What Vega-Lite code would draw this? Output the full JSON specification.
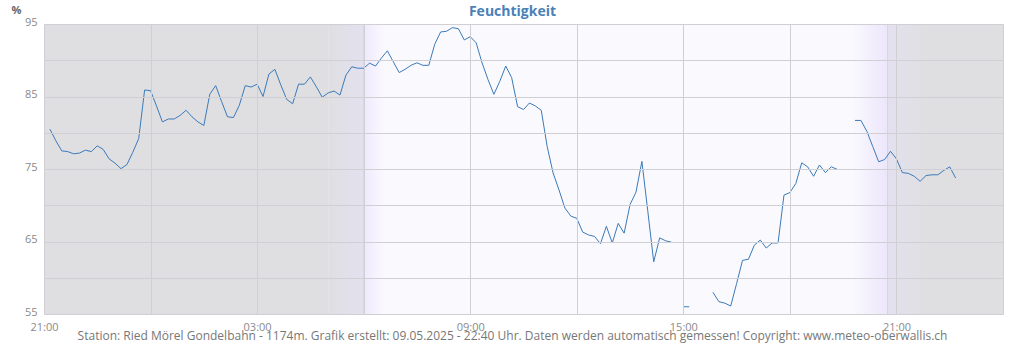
{
  "width": 959,
  "height": 290,
  "autosize": {"type": "none"},
  "padding": {"left": 44, "top": 24, "right": 21, "bottom": 36},
  "background": "white",
  "view": {"stroke": null},
  "resolve": {"axis": {"x": "independent"}},
  "datasets": {
    "bands": [
      {"kind": "night", "start": "2025-05-08T21:00", "end": "2025-05-09T05:00"},
      {"kind": "dawn1", "start": "2025-05-09T05:00", "end": "2025-05-09T06:00"},
      {"kind": "dawn2", "start": "2025-05-09T06:00", "end": "2025-05-09T06:35"},
      {"kind": "day", "start": "2025-05-09T06:35", "end": "2025-05-09T19:45"},
      {"kind": "dusk1", "start": "2025-05-09T19:45", "end": "2025-05-09T20:45"},
      {"kind": "dusk2", "start": "2025-05-09T20:45", "end": "2025-05-09T21:50"},
      {"kind": "night", "start": "2025-05-09T21:50", "end": "2025-05-10T00:00"}
    ],
    "sun": [
      {"event": "sunrise", "time": "2025-05-09T06:00"},
      {"event": "sunset", "time": "2025-05-09T20:45"}
    ],
    "humidity": [
      {"part": 1, "time": "2025-05-08T21:10", "rh": 80.5},
      {"part": 1, "time": "2025-05-08T21:20", "rh": 78.9},
      {"part": 1, "time": "2025-05-08T21:30", "rh": 77.5},
      {"part": 1, "time": "2025-05-08T21:40", "rh": 77.4},
      {"part": 1, "time": "2025-05-08T21:50", "rh": 77.1},
      {"part": 1, "time": "2025-05-08T22:00", "rh": 77.2},
      {"part": 1, "time": "2025-05-08T22:10", "rh": 77.6},
      {"part": 1, "time": "2025-05-08T22:20", "rh": 77.4},
      {"part": 1, "time": "2025-05-08T22:30", "rh": 78.2},
      {"part": 1, "time": "2025-05-08T22:40", "rh": 77.7},
      {"part": 1, "time": "2025-05-08T22:50", "rh": 76.4},
      {"part": 1, "time": "2025-05-08T23:00", "rh": 75.8},
      {"part": 1, "time": "2025-05-08T23:10", "rh": 75.05},
      {"part": 1, "time": "2025-05-08T23:20", "rh": 75.6},
      {"part": 1, "time": "2025-05-08T23:30", "rh": 77.3},
      {"part": 1, "time": "2025-05-08T23:40", "rh": 79.2},
      {"part": 1, "time": "2025-05-08T23:50", "rh": 85.9},
      {"part": 1, "time": "2025-05-09T00:00", "rh": 85.8},
      {"part": 1, "time": "2025-05-09T00:10", "rh": 83.7},
      {"part": 1, "time": "2025-05-09T00:20", "rh": 81.5},
      {"part": 1, "time": "2025-05-09T00:30", "rh": 81.9},
      {"part": 1, "time": "2025-05-09T00:40", "rh": 81.9},
      {"part": 1, "time": "2025-05-09T00:50", "rh": 82.4},
      {"part": 1, "time": "2025-05-09T01:00", "rh": 83.1},
      {"part": 1, "time": "2025-05-09T01:10", "rh": 82.2},
      {"part": 1, "time": "2025-05-09T01:20", "rh": 81.5},
      {"part": 1, "time": "2025-05-09T01:30", "rh": 81.0},
      {"part": 1, "time": "2025-05-09T01:40", "rh": 85.3},
      {"part": 1, "time": "2025-05-09T01:50", "rh": 86.5},
      {"part": 1, "time": "2025-05-09T02:00", "rh": 84.3},
      {"part": 1, "time": "2025-05-09T02:10", "rh": 82.2},
      {"part": 1, "time": "2025-05-09T02:20", "rh": 82.1},
      {"part": 1, "time": "2025-05-09T02:30", "rh": 83.8},
      {"part": 1, "time": "2025-05-09T02:40", "rh": 86.5},
      {"part": 1, "time": "2025-05-09T02:50", "rh": 86.3},
      {"part": 1, "time": "2025-05-09T03:00", "rh": 86.7},
      {"part": 1, "time": "2025-05-09T03:10", "rh": 85.0},
      {"part": 1, "time": "2025-05-09T03:20", "rh": 88.1},
      {"part": 1, "time": "2025-05-09T03:30", "rh": 88.75},
      {"part": 1, "time": "2025-05-09T03:40", "rh": 86.6},
      {"part": 1, "time": "2025-05-09T03:50", "rh": 84.6},
      {"part": 1, "time": "2025-05-09T04:00", "rh": 84.0},
      {"part": 1, "time": "2025-05-09T04:10", "rh": 86.7},
      {"part": 1, "time": "2025-05-09T04:20", "rh": 86.7},
      {"part": 1, "time": "2025-05-09T04:30", "rh": 87.7},
      {"part": 1, "time": "2025-05-09T04:40", "rh": 86.35},
      {"part": 1, "time": "2025-05-09T04:50", "rh": 84.9},
      {"part": 1, "time": "2025-05-09T05:00", "rh": 85.5},
      {"part": 1, "time": "2025-05-09T05:10", "rh": 85.75},
      {"part": 1, "time": "2025-05-09T05:20", "rh": 85.2},
      {"part": 1, "time": "2025-05-09T05:30", "rh": 87.95},
      {"part": 1, "time": "2025-05-09T05:40", "rh": 89.1},
      {"part": 1, "time": "2025-05-09T05:50", "rh": 88.9},
      {"part": 1, "time": "2025-05-09T06:00", "rh": 88.9},
      {"part": 1, "time": "2025-05-09T06:10", "rh": 89.6},
      {"part": 1, "time": "2025-05-09T06:20", "rh": 89.2},
      {"part": 1, "time": "2025-05-09T06:30", "rh": 90.3},
      {"part": 1, "time": "2025-05-09T06:40", "rh": 91.3},
      {"part": 1, "time": "2025-05-09T06:50", "rh": 89.8},
      {"part": 1, "time": "2025-05-09T07:00", "rh": 88.3},
      {"part": 1, "time": "2025-05-09T07:10", "rh": 88.75},
      {"part": 1, "time": "2025-05-09T07:20", "rh": 89.3},
      {"part": 1, "time": "2025-05-09T07:30", "rh": 89.65},
      {"part": 1, "time": "2025-05-09T07:40", "rh": 89.3},
      {"part": 1, "time": "2025-05-09T07:50", "rh": 89.3},
      {"part": 1, "time": "2025-05-09T08:00", "rh": 92.2},
      {"part": 1, "time": "2025-05-09T08:10", "rh": 93.9},
      {"part": 1, "time": "2025-05-09T08:20", "rh": 94.0},
      {"part": 1, "time": "2025-05-09T08:30", "rh": 94.5},
      {"part": 1, "time": "2025-05-09T08:40", "rh": 94.35},
      {"part": 1, "time": "2025-05-09T08:50", "rh": 92.8},
      {"part": 1, "time": "2025-05-09T09:00", "rh": 93.25},
      {"part": 1, "time": "2025-05-09T09:10", "rh": 92.4},
      {"part": 1, "time": "2025-05-09T09:20", "rh": 89.65},
      {"part": 1, "time": "2025-05-09T09:30", "rh": 87.35},
      {"part": 1, "time": "2025-05-09T09:40", "rh": 85.3},
      {"part": 1, "time": "2025-05-09T09:50", "rh": 87.1},
      {"part": 1, "time": "2025-05-09T10:00", "rh": 89.2},
      {"part": 1, "time": "2025-05-09T10:10", "rh": 87.6},
      {"part": 1, "time": "2025-05-09T10:20", "rh": 83.6},
      {"part": 1, "time": "2025-05-09T10:30", "rh": 83.2},
      {"part": 1, "time": "2025-05-09T10:40", "rh": 84.1},
      {"part": 1, "time": "2025-05-09T10:50", "rh": 83.7},
      {"part": 1, "time": "2025-05-09T11:00", "rh": 83.1},
      {"part": 1, "time": "2025-05-09T11:10", "rh": 78.1},
      {"part": 1, "time": "2025-05-09T11:20", "rh": 74.45},
      {"part": 1, "time": "2025-05-09T11:30", "rh": 72.1},
      {"part": 1, "time": "2025-05-09T11:40", "rh": 69.6},
      {"part": 1, "time": "2025-05-09T11:50", "rh": 68.5},
      {"part": 1, "time": "2025-05-09T12:00", "rh": 68.2},
      {"part": 1, "time": "2025-05-09T12:10", "rh": 66.3},
      {"part": 1, "time": "2025-05-09T12:20", "rh": 65.9},
      {"part": 1, "time": "2025-05-09T12:30", "rh": 65.7},
      {"part": 1, "time": "2025-05-09T12:40", "rh": 64.7},
      {"part": 1, "time": "2025-05-09T12:50", "rh": 67.1},
      {"part": 1, "time": "2025-05-09T13:00", "rh": 64.8},
      {"part": 1, "time": "2025-05-09T13:10", "rh": 67.5},
      {"part": 1, "time": "2025-05-09T13:20", "rh": 66.15},
      {"part": 1, "time": "2025-05-09T13:30", "rh": 70.1},
      {"part": 1, "time": "2025-05-09T13:40", "rh": 71.8},
      {"part": 1, "time": "2025-05-09T13:50", "rh": 76.05},
      {"part": 1, "time": "2025-05-09T14:00", "rh": 69.15},
      {"part": 1, "time": "2025-05-09T14:10", "rh": 62.2},
      {"part": 1, "time": "2025-05-09T14:20", "rh": 65.5},
      {"part": 1, "time": "2025-05-09T14:30", "rh": 65.1},
      {"part": 1, "time": "2025-05-09T14:40", "rh": 64.9},
      {"part": 2, "time": "2025-05-09T15:00", "rh": 56.0},
      {"part": 2, "time": "2025-05-09T15:10", "rh": 56.0},
      {"part": 3, "time": "2025-05-09T15:50", "rh": 58.0},
      {"part": 3, "time": "2025-05-09T16:00", "rh": 56.7},
      {"part": 3, "time": "2025-05-09T16:10", "rh": 56.5},
      {"part": 3, "time": "2025-05-09T16:20", "rh": 56.1},
      {"part": 3, "time": "2025-05-09T16:30", "rh": 59.2},
      {"part": 3, "time": "2025-05-09T16:40", "rh": 62.4},
      {"part": 3, "time": "2025-05-09T16:50", "rh": 62.55},
      {"part": 3, "time": "2025-05-09T17:00", "rh": 64.5},
      {"part": 3, "time": "2025-05-09T17:10", "rh": 65.2},
      {"part": 3, "time": "2025-05-09T17:20", "rh": 64.1},
      {"part": 3, "time": "2025-05-09T17:30", "rh": 64.8},
      {"part": 3, "time": "2025-05-09T17:40", "rh": 64.8},
      {"part": 3, "time": "2025-05-09T17:50", "rh": 71.4},
      {"part": 3, "time": "2025-05-09T18:00", "rh": 71.75},
      {"part": 3, "time": "2025-05-09T18:10", "rh": 73.0},
      {"part": 3, "time": "2025-05-09T18:20", "rh": 75.85},
      {"part": 3, "time": "2025-05-09T18:30", "rh": 75.3},
      {"part": 3, "time": "2025-05-09T18:40", "rh": 74.0},
      {"part": 3, "time": "2025-05-09T18:50", "rh": 75.55},
      {"part": 3, "time": "2025-05-09T19:00", "rh": 74.5},
      {"part": 3, "time": "2025-05-09T19:10", "rh": 75.3},
      {"part": 3, "time": "2025-05-09T19:20", "rh": 74.95},
      {"part": 4, "time": "2025-05-09T19:50", "rh": 81.7},
      {"part": 4, "time": "2025-05-09T20:00", "rh": 81.7},
      {"part": 4, "time": "2025-05-09T20:10", "rh": 80.2},
      {"part": 4, "time": "2025-05-09T20:20", "rh": 78.1},
      {"part": 4, "time": "2025-05-09T20:30", "rh": 76.0},
      {"part": 4, "time": "2025-05-09T20:40", "rh": 76.3},
      {"part": 4, "time": "2025-05-09T20:50", "rh": 77.45},
      {"part": 4, "time": "2025-05-09T21:00", "rh": 76.4},
      {"part": 4, "time": "2025-05-09T21:10", "rh": 74.5},
      {"part": 4, "time": "2025-05-09T21:20", "rh": 74.4},
      {"part": 4, "time": "2025-05-09T21:30", "rh": 74.0},
      {"part": 4, "time": "2025-05-09T21:40", "rh": 73.3},
      {"part": 4, "time": "2025-05-09T21:50", "rh": 74.1},
      {"part": 4, "time": "2025-05-09T22:00", "rh": 74.2},
      {"part": 4, "time": "2025-05-09T22:10", "rh": 74.2},
      {"part": 4, "time": "2025-05-09T22:20", "rh": 74.8},
      {"part": 4, "time": "2025-05-09T22:30", "rh": 75.3},
      {"part": 4, "time": "2025-05-09T22:40", "rh": 73.75}
    ]
  },
  "config": {
    "font": "Open Sans"
  },
  "layer": [
    {
      "data": {"name": "bands"},
      "transform": [{"filter": "datum.kind == 'night'"}],
      "mark": {"type": "rect", "fill": "#dfdfe2"},
      "encoding": {
        "x": {
          "field": "start",
          "type": "temporal",
          "scale": {"nice": false},
          "axis": {
            "orient": "bottom",
            "zindex": 1,
            "format": "%H:%M",
            "tickCount": 9,
            "labelExpr": "hours(datum.value) % 6 == 3 ? datum.label : ''",
            "grid": true,
            "gridColor": "#cfcfd4",
            "domain": false,
            "ticks": false,
            "labelFontSize": 11,
            "labelColor": "#8a8a8a",
            "labelPadding": 7,
            "labelFlush": false,
            "labelOverlap": false,
            "title": "Station: Ried Mörel Gondelbahn - 1174m. Grafik erstellt: 09.05.2025 - 22:40 Uhr. Daten werden automatisch gemessen! Copyright: www.meteo-oberwallis.ch",
            "titleFontSize": 12,
            "titleFontWeight": "normal",
            "titleColor": "#777777",
            "titleAlign": "center",
            "titleBaseline": "alphabetic",
            "titleX": 468,
            "titleY": 25
          }
        },
        "x2": {"field": "end"}
      }
    },
    {
      "data": {"name": "bands"},
      "transform": [{"filter": "datum.kind == 'day'"}],
      "mark": {"type": "rect", "fill": "#faf9fe"},
      "encoding": {"x": {"field": "start", "type": "temporal", "axis": null}, "x2": {"field": "end"}}
    },
    {
      "data": {"name": "bands"},
      "transform": [{"filter": "datum.kind == 'dawn1'"}],
      "mark": {"type": "rect", "fill": {"gradient": "linear", "x1": 0, "x2": 1, "y1": 0, "y2": 0, "stops": [{"offset": 0, "color": "#dfdfe2"}, {"offset": 1, "color": "#e3e1ef"}]}},
      "encoding": {"x": {"field": "start", "type": "temporal", "axis": null}, "x2": {"field": "end"}}
    },
    {
      "data": {"name": "bands"},
      "transform": [{"filter": "datum.kind == 'dawn2'"}],
      "mark": {"type": "rect", "fill": {"gradient": "linear", "x1": 0, "x2": 1, "y1": 0, "y2": 0, "stops": [{"offset": 0, "color": "#efe9fc"}, {"offset": 1, "color": "#faf9fe"}]}},
      "encoding": {"x": {"field": "start", "type": "temporal", "axis": null}, "x2": {"field": "end"}}
    },
    {
      "data": {"name": "bands"},
      "transform": [{"filter": "datum.kind == 'dusk1'"}],
      "mark": {"type": "rect", "fill": {"gradient": "linear", "x1": 0, "x2": 1, "y1": 0, "y2": 0, "stops": [{"offset": 0, "color": "#faf9fe"}, {"offset": 1, "color": "#ece6fb"}]}},
      "encoding": {"x": {"field": "start", "type": "temporal", "axis": null}, "x2": {"field": "end"}}
    },
    {
      "data": {"name": "bands"},
      "transform": [{"filter": "datum.kind == 'dusk2'"}],
      "mark": {"type": "rect", "fill": {"gradient": "linear", "x1": 0, "x2": 1, "y1": 0, "y2": 0, "stops": [{"offset": 0, "color": "#e3e1ef"}, {"offset": 1, "color": "#dfdfe2"}]}},
      "encoding": {"x": {"field": "start", "type": "temporal", "axis": null}, "x2": {"field": "end"}}
    },
    {
      "data": {"name": "sun"},
      "mark": {"type": "rule", "color": "#d6d5de", "strokeWidth": 1},
      "encoding": {
        "x": {
          "field": "time",
          "type": "temporal",
          "axis": {
            "orient": "top",
            "grid": false,
            "labels": false,
            "ticks": false,
            "domain": false,
            "title": "Feuchtigkeit",
            "titleFont": "Open Sans",
            "titleFontSize": 14,
            "titleFontWeight": "bold",
            "titleColor": "#4a80b8",
            "titleAlign": "center",
            "titleBaseline": "alphabetic",
            "titleX": 468,
            "titleY": -9
          }
        }
      }
    },
    {
      "data": {"name": "humidity"},
      "mark": {"type": "line", "color": "#3b7ab9", "strokeWidth": 1},
      "encoding": {
        "x": {"field": "time", "type": "temporal", "axis": null},
        "detail": {"field": "part", "type": "nominal"},
        "y": {
          "field": "rh",
          "type": "quantitative",
          "scale": {"domain": [55, 95], "nice": false, "zero": false},
          "axis": {
            "zindex": 1,
            "values": [55, 60, 65, 70, 75, 80, 85, 90, 95],
            "labelExpr": "datum.value % 10 == 5 ? datum.label : ''",
            "grid": true,
            "gridColor": "#cfcfd4",
            "domain": false,
            "ticks": false,
            "labelFontSize": 11,
            "labelColor": "#8a8a8a",
            "labelPadding": 7,
            "labelBaseline": "alphabetic",
            "labelOffset": 1,
            "labelFlush": false,
            "title": "%",
            "titleFontSize": 11,
            "titleFontWeight": "bold",
            "titleColor": "#666666",
            "titleAngle": 0,
            "titleAlign": "left",
            "titleBaseline": "alphabetic",
            "titleX": -33,
            "titleY": -11
          }
        }
      }
    }
  ]
}
